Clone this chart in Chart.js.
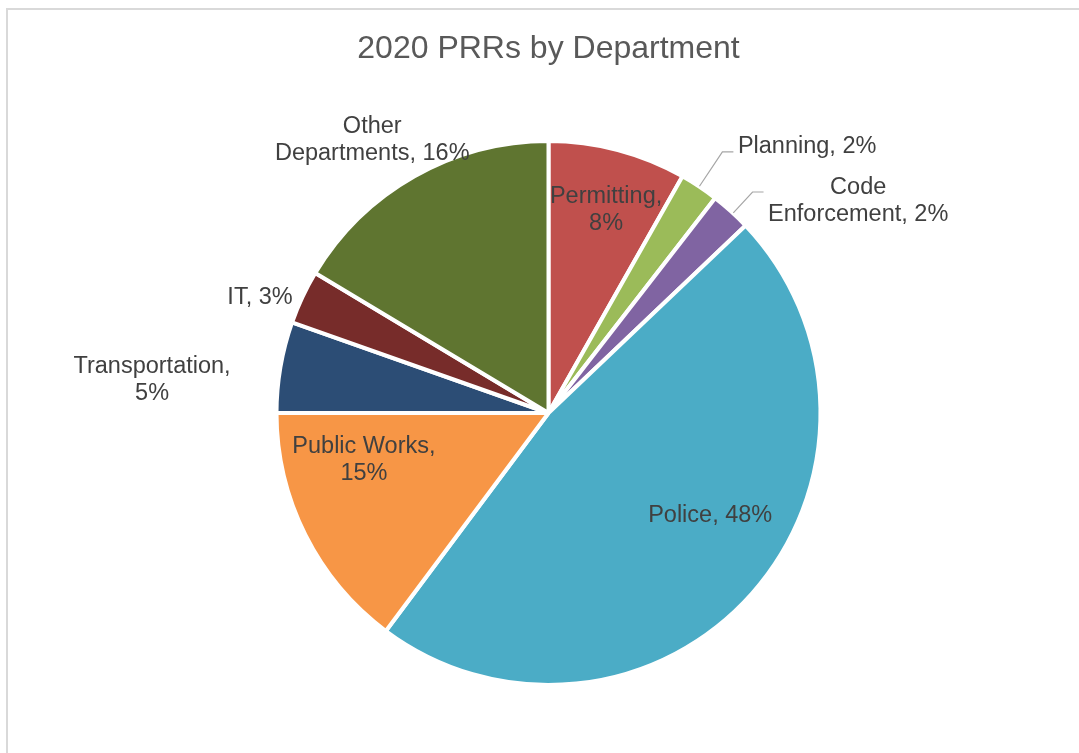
<!DOCTYPE html>
<html>
<head>
<meta charset="utf-8">
<script src="https://cdn.jsdelivr.net/npm/chart.js@4.4.1/dist/chart.umd.min.js"></script>
<style>
  body { margin: 0; background: #ffffff; }
  #wrap { position: relative; width: 1079px; height: 753px; overflow: hidden; }
  #frame { position: absolute; left: 6px; top: 8px; width: 1200px; height: 900px; border: 2px solid #d9d9d9; }
  canvas { position: absolute; left: 0; top: 0; }
</style>
</head>
<body>
<div id="wrap">
  <div id="frame"></div>
  <canvas id="grafico" width="1079" height="753"></canvas>
</div>
<script>
const departments = ["Permitting", "Planning", "Code Enforcement", "Police", "Public Works", "Transportation", "IT", "Other Departments"];
const shares = [8.2, 2.3, 2.4, 47.3, 14.8, 5.4, 3.2, 16.4];
const percentLabels = ["8%", "2%", "2%", "48%", "15%", "5%", "3%", "16%"];
const colors = ["#C0504D", "#9BBB59", "#8064A2", "#4BACC6", "#F79646", "#2C4D75", "#772C2A", "#5F7530"];

// where each data label sits: radius factor, angle tweak (deg), wrap width, leader line
const placement = [
  { r: 0.79, da: 0.9, w: 130 },
  { r: 1.162, da: 0, w: 300, leader: true, dy: -7 },
  { r: 1.114, da: 0.6, w: 190, leader: true, dy: 6.5 },
  { r: 0.706, da: -9.6, w: 300 },
  { r: 0.704, da: 12.8, w: 160 },
  { r: 1.474, da: -4.7, w: 170 },
  { r: 1.154, da: -3, w: 200 },
  { r: 1.211, da: -3.1, w: 200 }
];

function wrapText(ctx, text, maxW) {
  const words = text.split(" ");
  const lines = [];
  let line = words[0];
  for (let k = 1; k < words.length; k++) {
    const test = line + " " + words[k];
    if (ctx.measureText(test).width > maxW) {
      lines.push(line);
      line = words[k];
    } else {
      line = test;
    }
  }
  lines.push(line);
  return lines;
}

const dataLabels = {
  id: "dataLabels",
  afterDatasetsDraw(chart) {
    const ctx = chart.ctx;
    const arcs = chart.getDatasetMeta(0).data;
    const lineH = 27;
    const baseShift = 2;
    ctx.save();
    ctx.font = "23.5px 'Liberation Sans', Arial, sans-serif";
    ctx.fillStyle = "#404040";
    ctx.textBaseline = "middle";
    ctx.textAlign = "center";
    arcs.forEach((arc, i) => {
      const p = placement[i];
      const R = arc.outerRadius - arc.options.borderWidth / 2;
      const mid = (arc.startAngle + arc.endAngle) / 2 + p.da * Math.PI / 180;
      const text = departments[i] + ", " + percentLabels[i];
      const lines = wrapText(ctx, text, p.w);
      let cx, cy;
      if (p.leader) {
        const sx = arc.x + (R + 2.4) * Math.cos(mid);
        const sy = arc.y + (R + 2.4) * Math.sin(mid);
        const ex = arc.x + p.r * R * Math.cos(mid);
        const ey = arc.y + p.r * R * Math.sin(mid);
        ctx.strokeStyle = "#a6a6a6";
        ctx.lineWidth = 1.2;
        ctx.beginPath();
        ctx.moveTo(sx, sy);
        ctx.lineTo(ex, ey);
        ctx.lineTo(ex + 11, ey);
        ctx.stroke();
        const blockW = Math.max(...lines.map((l) => ctx.measureText(l).width));
        cx = ex + 15.5 + blockW / 2;
        cy = ey + p.dy;
      } else {
        cx = arc.x + p.r * R * Math.cos(mid);
        cy = arc.y + p.r * R * Math.sin(mid);
      }
      const top = cy - ((lines.length - 1) * lineH) / 2 + baseShift;
      lines.forEach((l, k) => ctx.fillText(l, cx, top + k * lineH));
    });
    ctx.restore();
  }
};

const ctx = document.getElementById("grafico").getContext("2d");
const chart = new Chart(ctx, {
  type: "pie",
  data: {
    labels: departments,
    datasets: [
      {
        data: shares,
        backgroundColor: colors,
        borderColor: "#ffffff",
        borderWidth: 4
      }
    ]
  },
  options: {
    responsive: false,
    animation: false,
    layout: {
      padding: { left: 274.5, right: 256.5, top: 0, bottom: 66 }
    },
    plugins: {
      legend: { display: false },
      tooltip: { enabled: false },
      title: {
        display: true,
        text: "2020 PRRs by Department",
        color: "#595959",
        font: { family: "'Liberation Sans', Arial, sans-serif", size: 32, weight: "normal" },
        padding: { top: 29.8, bottom: 70.8 }
      }
    }
  },
  plugins: [dataLabels]
});
</script>
</body>
</html>
